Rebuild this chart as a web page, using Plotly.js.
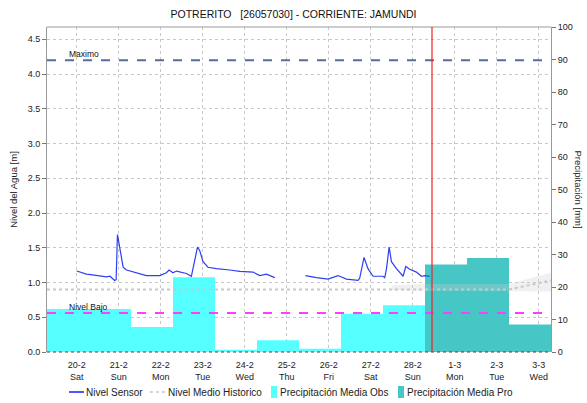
<!DOCTYPE html>
<html>
<head>
<meta charset="utf-8">
<script src="https://cdn.plot.ly/plotly-3.0.1.min.js"></script>
<style>html,body{margin:0;padding:0;background:#fff;}#chart{width:587px;height:403px;}</style>
</head>
<body>
<div id="chart"></div>
<script>
// ---- Data ----
const sensorTime = [
  '2021-02-20 00:00','2021-02-20 05:30','2021-02-20 09:00','2021-02-20 13:00','2021-02-20 17:00','2021-02-20 19:00',
  '2021-02-20 21:40','2021-02-20 22:30','2021-02-20 23:15','2021-02-20 23:45','2021-02-21 00:35','2021-02-21 02:30',
  '2021-02-21 04:25','2021-02-21 10:05','2021-02-21 15:50','2021-02-21 23:25','2021-02-22 03:15','2021-02-22 04:45',
  '2021-02-22 07:00','2021-02-22 09:00','2021-02-22 14:40','2021-02-22 17:30','2021-02-22 18:30','2021-02-22 19:25',
  '2021-02-22 21:00','2021-02-22 22:15','2021-02-23 00:10','2021-02-23 03:00','2021-02-23 07:50','2021-02-23 15:25',
  '2021-02-23 21:10','2021-02-24 04:45','2021-02-24 08:35','2021-02-24 12:25','2021-02-24 17:10',
  '2021-02-25 00:00',
  '2021-02-25 10:40','2021-02-25 17:00','2021-02-25 23:35','2021-02-26 05:20','2021-02-26 10:05','2021-02-26 16:45',
  '2021-02-26 17:40','2021-02-26 20:10','2021-02-26 22:25','2021-02-27 01:20','2021-02-27 07:00','2021-02-27 08:00',
  '2021-02-27 09:00','2021-02-27 10:30','2021-02-27 11:50','2021-02-27 14:40','2021-02-27 18:30','2021-02-27 20:00',
  '2021-02-27 22:20','2021-02-28 02:05','2021-02-28 05:00','2021-02-28 06:55','2021-02-28 09:45'
];
const sensorLevel = [
  1.165,1.12,1.11,1.10,1.08,1.09,
  1.03,1.04,1.69,1.62,1.51,1.22,
  1.18,1.14,1.10,1.10,1.14,1.18,
  1.14,1.165,1.13,1.09,1.22,1.34,
  1.51,1.46,1.30,1.22,1.20,1.18,
  1.16,1.15,1.10,1.12,1.07,
  null,
  1.10,1.07,1.05,1.10,1.05,1.03,
  1.06,1.36,1.20,1.09,1.09,1.07,
  1.20,1.51,1.30,1.20,1.09,1.23,
  1.19,1.15,1.09,1.10,1.09
];

const histTime = ['2021-02-19 07:00','2021-02-20 07:00','2021-02-21 07:00','2021-02-22 07:00','2021-02-23 07:00',
  '2021-02-24 07:00','2021-02-25 07:00','2021-02-26 07:00','2021-02-27 07:00','2021-02-28 07:00',
  '2021-03-01 07:00','2021-03-02 07:00','2021-03-03 07:00'];
const histLevel = [0.90,0.90,0.90,0.90,0.90,0.90,0.90,0.90,0.90,0.90,0.90,0.90,1.03];

const bandTime = ['2021-02-27 12:00','2021-02-28 07:00','2021-03-01 07:00','2021-03-02 07:00','2021-03-03 07:00'];
const bandUpper = [0.96,0.98,0.98,0.98,1.14];
const bandLower = [0.89,0.88,0.88,0.88,0.87];

const obsDays = ['2021-02-19 07:00','2021-02-20 07:00','2021-02-21 07:00','2021-02-22 07:00','2021-02-23 07:00',
  '2021-02-24 07:00','2021-02-25 07:00','2021-02-26 07:00','2021-02-27 07:00'];
const obsPrecip = [13.2,13.2,7.7,23.0,0.7,3.6,1.0,11.8,14.4];

const proDays = ['2021-02-28 07:00','2021-03-01 07:00','2021-03-02 07:00'];
const proPrecip = [26.9,28.9,8.5];

const levelMax = 4.2;
const levelLow = 0.56;
const nowTime = '2021-02-28 11:00';
const xRange = ['2021-02-19 07:00','2021-03-03 07:00'];

const seriesNames = ['Nivel Sensor','Nivel Medio Historico','Precipitación Media Obs','Precipitación Media Pro'];

const DAY = 86400000;
const FONT = 'Liberation Sans, Arial, sans-serif';
const COL_SENSOR = '#2f3ff0', COL_HIST = '#c8c8c8', COL_OBS = '#55ffff', COL_PRO = '#47c6c6';

const traces = [
  {type:'bar', x:obsDays, y:obsPrecip, yaxis:'y', name:seriesNames[2], showlegend:false,
   marker:{color:COL_OBS, line:{width:0}}, width:obsDays.map(()=>DAY), offset:0},
  {type:'bar', x:proDays, y:proPrecip, yaxis:'y', name:seriesNames[3], showlegend:false,
   marker:{color:COL_PRO, line:{width:0}}, width:proDays.map(()=>DAY), offset:0},
  {type:'scatter', mode:'lines', x:bandTime, y:bandLower, yaxis:'y2', line:{width:0}, showlegend:false, hoverinfo:'skip'},
  {type:'scatter', mode:'lines', x:bandTime, y:bandUpper, yaxis:'y2', line:{width:0}, fill:'tonexty',
   fillcolor:'rgba(205,205,205,0.3)', showlegend:false, hoverinfo:'skip'},
  {type:'scatter', mode:'lines', x:histTime, y:histLevel, yaxis:'y2', name:seriesNames[1], showlegend:false,
   line:{color:COL_HIST, width:2, dash:'dot'}},
  {type:'scatter', mode:'lines', x:sensorTime, y:sensorLevel, yaxis:'y2', name:seriesNames[0], showlegend:false,
   line:{color:COL_SENSOR, width:1.2}, connectgaps:false}
];

// legend drawn in pixel positions under the plot (plot area: x 47..551, y 27..352)
const PL = 47, PW = 504, PB = 352, PH = 325;
const px = v => (v - PL) / PW;
const py = v => (PB - v) / PH;
const LY = 392;
const legendShapes = [
  {type:'line', xref:'paper', yref:'paper', x0:px(69), x1:px(84), y0:py(LY), y1:py(LY), line:{color:'#1020ff', width:1.5}},
  {type:'line', xref:'paper', yref:'paper', x0:px(150), x1:px(165), y0:py(LY), y1:py(LY), line:{color:'#c8c8c8', width:1.5, dash:'3px,3px'}},
  {type:'rect', xref:'paper', yref:'paper', x0:px(271), x1:px(277), y0:py(LY+6), y1:py(LY-6), line:{width:0}, fillcolor:COL_OBS},
  {type:'rect', xref:'paper', yref:'paper', x0:px(398), x1:px(404), y0:py(LY+6), y1:py(LY-6), line:{width:0}, fillcolor:COL_PRO}
];
const legendTextX = [85, 167, 279, 406];
const legendAnn = seriesNames.map((n,i) => ({text:n, xref:'paper', yref:'paper', x:px(legendTextX[i]), y:py(LY),
  xanchor:'left', yanchor:'middle', showarrow:false, font:{size:10, color:'#222'}, borderpad:0}));

const layout = {
  width:587, height:403,
  margin:{l:47, r:36, t:27, b:51, autoexpand:false},
  paper_bgcolor:'#fff', plot_bgcolor:'#fff',
  font:{family:FONT, size:9, color:'#222'},
  barmode:'overlay',
  showlegend:false,
  title:{text:'POTRERITO\u00a0\u00a0\u00a0[26057030] - CORRIENTE: JAMUNDI', font:{size:10.5, color:'#111'},
         x:0.5, xref:'container', y:1-14/403, yref:'container', yanchor:'middle', xanchor:'center'},
  xaxis:{type:'date', range:xRange, tick0:'2021-02-20', dtick:DAY, tickformat:'%-d-%-m<br>%a', tickangle:0,
         showgrid:true, gridcolor:'#c8c8c8', griddash:'dot', gridwidth:1, showline:false, ticks:'',
         zeroline:false, tickfont:{size:9}, ticklabelstandoff:6},
  yaxis:{side:'right', range:[0,100], dtick:10, ticks:'outside', ticklen:4, tickcolor:'#777',
         showline:true, linecolor:'#999', linewidth:1, showgrid:false, zeroline:false, tickfont:{size:9}},
  yaxis2:{overlaying:'y', side:'left', range:[0,4.677], dtick:0.5, tickformat:'.1f', ticks:'outside', ticklen:4,
          tickcolor:'#777', showline:true, linecolor:'#999', linewidth:1, showgrid:true, gridcolor:'#c8c8c8',
          griddash:'dot', zeroline:false, tickfont:{size:9},
          title:{text:'Nivel del Agua [m]', font:{size:9.5}, standoff:8}},
  shapes:[
    {type:'line', xref:'paper', x0:0, x1:1, yref:'paper', y0:1, y1:1, line:{color:'#999', width:1}},
    {type:'line', xref:'paper', x0:0, x1:1, yref:'paper', y0:0, y1:0, line:{color:'#444', width:1, dash:'dot'}},
    {type:'line', xref:'paper', x0:0, x1:1, yref:'y2', y0:levelMax, y1:levelMax, layer:'above',
     line:{color:'#5a68a6', width:2, dash:'dash'}},
    {type:'line', xref:'paper', x0:0, x1:1, yref:'y2', y0:levelLow, y1:levelLow, layer:'above',
     line:{color:'#ff3cff', width:2, dash:'dash'}},
    {type:'line', xref:'x', x0:nowTime, x1:nowTime, yref:'paper', y0:0, y1:1, layer:'above',
     line:{color:'#ee2222', width:1.2}}
  ].concat(legendShapes),
  annotations:[
    {text:'Maximo', xref:'paper', x:0.04, yref:'y2', y:levelMax, xanchor:'left', yanchor:'bottom',
     showarrow:false, font:{size:8.5, color:'#111'}, yshift:-1},
    {text:'Nivel Bajo', xref:'paper', x:0.04, yref:'y2', y:levelLow, xanchor:'left', yanchor:'bottom',
     showarrow:false, font:{size:8.5, color:'#111'}, yshift:-1},
    {text:'Precipitación [mm]', xref:'paper', x:(578-47)/504, yref:'paper', y:0.5, textangle:90,
     xanchor:'center', yanchor:'middle', showarrow:false, font:{size:9.5, color:'#222'}}
  ].concat(legendAnn)
};

Plotly.newPlot('chart', traces, layout, {displayModeBar:false, staticPlot:true});
</script>
</body>
</html>
